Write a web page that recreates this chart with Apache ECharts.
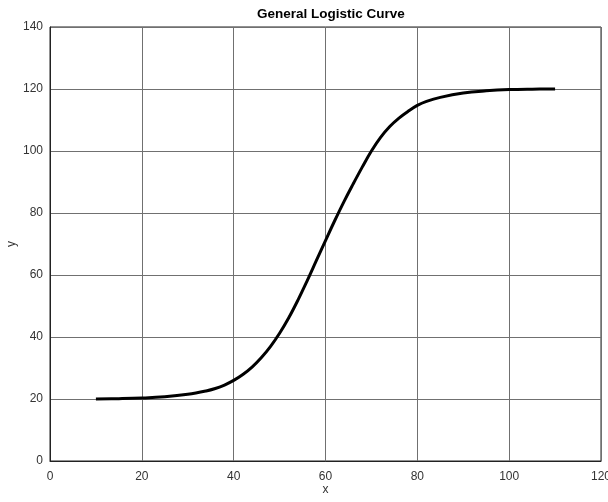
<!DOCTYPE html>
<html>
<head>
<meta charset="utf-8">
<script src="https://cdn.jsdelivr.net/npm/echarts@6/dist/echarts.min.js"></script>
<style>
html,body{margin:0;padding:0;background:#fff;}
#chart{width:608px;height:502px;}
</style>
</head>
<body>
<div id="chart"></div>
<script>
var xValues = [10, 15, 20, 25, 30, 34, 36, 38, 40, 42, 44, 46, 48, 50, 52, 54, 56, 58, 60, 62, 64, 66, 68, 70, 72, 74, 76, 78, 80, 82, 85, 90, 95, 100, 105, 110];
var yValues = [20.0, 20.1, 20.3, 20.7, 21.5, 22.6, 23.4, 24.5, 26.0, 27.9, 30.3, 33.3, 36.9, 41.2, 46.2, 51.9, 58.1, 64.6, 71.1, 77.5, 83.6, 89.3, 94.8, 100.0, 104.4, 107.9, 110.6, 112.8, 114.7, 116.0, 117.3, 118.7, 119.4, 119.8, 119.95, 120.0];
var titleText = 'General Logistic Curve';
var xName = 'x';
var yName = 'y';

var data = xValues.map(function (x, i) { return [x, yValues[i]]; });
var font = 'Liberation Sans, Arial, sans-serif';
var chart = echarts.init(document.getElementById('chart'), null, {renderer: 'canvas'});
chart.setOption({
  animation: false,
  backgroundColor: '#fff',
  title: {
    text: titleText, left: 252, top: 2,
    textStyle: {fontSize: 13.5, fontWeight: 'bold', color: '#000', fontFamily: font}
  },
  grid: {left: 50, right: 7, top: 27, bottom: 41, show: true, borderColor: '#222', borderWidth: 1,
         containLabel: false, outerBoundsMode: 'none'},
  xAxis: {
    type: 'value', min: 0, max: 120, interval: 20,
    name: xName, nameLocation: 'middle', nameGap: 23, nameMoveOverlap: false,
    nameTextStyle: {fontSize: 12, color: '#333', fontFamily: font},
    axisLine: {show: true, lineStyle: {color: '#222'}},
    axisTick: {show: false},
    axisLabel: {fontSize: 12, color: '#333', margin: 10, fontFamily: font},
    splitLine: {show: true, lineStyle: {color: '#707070', width: 1}}
  },
  yAxis: {
    type: 'value', min: 0, max: 140, interval: 20,
    name: yName, nameLocation: 'middle', nameGap: 32, nameMoveOverlap: false,
    nameTextStyle: {fontSize: 12, color: '#333', fontFamily: font},
    axisLine: {show: true, lineStyle: {color: '#222'}},
    axisTick: {show: false},
    axisLabel: {fontSize: 12, color: '#333', margin: 7, fontFamily: font},
    splitLine: {show: true, lineStyle: {color: '#707070', width: 1}}
  },
  series: [{
    type: 'line', data: data, smooth: 0.4, showSymbol: false,
    lineStyle: {color: '#000', width: 3}
  }]
});
</script>
</body>
</html>
